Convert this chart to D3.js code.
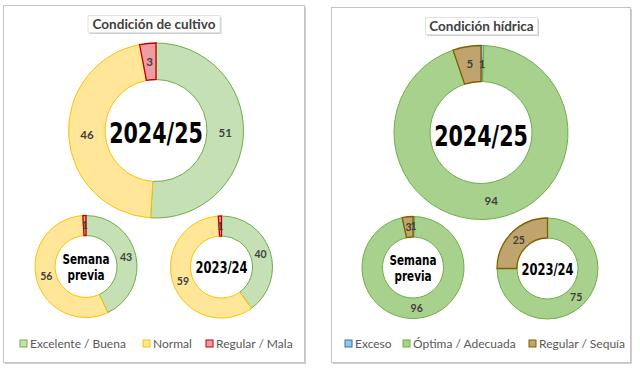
<!DOCTYPE html>
<html>
<head>
<meta charset="utf-8">
<script src="https://cdn.jsdelivr.net/npm/d3@7"></script>
<style>
  body { margin: 0; background: #fff; }
  svg { display: block; }
</style>
</head>
<body>
<svg id="chart" width="640" height="373"></svg>
<script>
// categories per panel
var cultivoCats = ["Excelente / Buena", "Normal", "Regular / Mala"]
var hidricaCats = ["Exceso", "Óptima / Adecuada", "Regular / Sequía"]

// values (%)
var cultivoActual = [51, 46, 3]
var cultivoPrevia = [43, 56, 1]
var cultivoAnterior = [40, 59, 1]
var hidricaActual = [0.5, 94.3, 5.2]
var hidricaPrevia = [0.5, 96.1, 3.4]
var hidricaAnterior = [0, 75, 25]

var cultivoFill = ["#c5e0b4", "#ffe699", "#ef9ca4"]
var cultivoStroke = ["#70ad47", "#ffc000", "#c00000"]
var hidricaFill = ["#9dc3e6", "#a9d18e", "#bfa46e"]
var hidricaStroke = ["#2e75b6", "#70ad47", "#7f6000"]

var svg = d3.select("#chart")
var txtFont = "Lato, 'Open Sans', sans-serif"
var bigFont = "'DejaVu Sans Condensed', 'DejaVu Sans', sans-serif"

var pie = d3.pie().sort(null).value(d => d)

function panel(x, y, w, h, title, tx, tw) {
    var g = svg.append("g")
    g.append("rect")
        .attr("x", x + 1.5).attr("y", y + 1.5)
        .attr("width", w).attr("height", h)
        .attr("fill", "#d0d0d0")
    g.append("rect")
        .attr("x", x).attr("y", y)
        .attr("width", w).attr("height", h)
        .attr("fill", "#fff")
        .attr("stroke", "#c4c4c4")
        .attr("stroke-width", 1)
    // title box with shadow
    g.append("rect")
        .attr("x", tx - tw / 2 + 1.5).attr("y", y + 11.5)
        .attr("width", tw).attr("height", 17)
        .attr("fill", "#cfcfcf")
    g.append("rect")
        .attr("x", tx - tw / 2).attr("y", y + 10)
        .attr("width", tw).attr("height", 17)
        .attr("fill", "#fff")
        .attr("stroke", "#e2e2e2")
    g.append("text")
        .attr("x", tx).attr("y", y + 23)
        .attr("text-anchor", "middle")
        .style("font-family", txtFont)
        .style("font-size", "13.5px")
        .style("font-weight", "bold")
        .style("fill", "#404040")
        .text(title)
    return g
}

function donut(g, values, cx, cy, r0, r1, fills, strokes, center, centerSize, sx, ty) {
    var arc = d3.arc().innerRadius(r0).outerRadius(r1)
    var dg = g.append("g").attr("transform", "translate(" + cx + "," + cy + ")")
    var arcs = pie(values)
    dg.selectAll("path")
        .data(arcs)
        .enter()
        .append("path")
        .attr("d", arc)
        .attr("fill", (d, i) => fills[i])
        .attr("stroke", (d, i) => strokes[i])
        .attr("stroke-width", (d, i) => i == 2 ? 1.3 : 1)
        .style("display", d => d.value > 0 ? null : "none")
    dg.selectAll("text.lbl")
        .data(arcs.filter(d => d.value > 0))
        .enter()
        .append("text")
        .attr("class", "lbl")
        .attr("transform", d => {
            var c = arc.centroid(d)
            return "translate(" + c[0] + "," + c[1] + ")"
        })
        .attr("text-anchor", "middle")
        .attr("dy", "0.35em")
        .style("font-family", txtFont)
        .style("font-size", r1 > 70 ? "11.5px" : "10.5px")
        .style("font-weight", "bold")
        .style("fill", "#404040")
        .text(d => Math.round(d.value))
    var lines = center.split("\n")
    var tg = dg.append("g").attr("transform", "translate(0," + ty + ") scale(" + sx + ",1)")
    lines.forEach((t, i) => {
        tg.append("text")
            .attr("text-anchor", "middle")
            .attr("y", (i - (lines.length - 1) / 2) * 16)
            .attr("dy", "0.36em")
            .style("font-family", bigFont)
            .style("font-size", centerSize + "px")
            .style("font-weight", "bold")
            .style("fill", "#000")
            .text(t)
    })
}

function legend(g, cats, xs, y, fills, strokes) {
    cats.forEach((c, i) => {
        g.append("rect")
            .attr("x", xs[i]).attr("y", y - 4)
            .attr("width", 7).attr("height", 7)
            .attr("fill", fills[i])
            .attr("stroke", strokes[i])
        g.append("text")
            .attr("x", xs[i] + 10).attr("y", y)
            .attr("dy", "0.35em")
            .style("font-family", txtFont)
            .style("font-size", "12px")
            .style("fill", "#595959")
            .text(c)
    })
}

var left = panel(3.5, 5.5, 301, 357, "Condición de cultivo", 154, 132)
donut(left, cultivoActual, 156, 130.5, 51, 87.5, cultivoFill, cultivoStroke, "2024/25", 28, 0.82, 2.5)
donut(left, cultivoPrevia, 86, 266.5, 31, 51, cultivoFill, cultivoStroke, "Semana\nprevia", 13.5, 0.86, 1)
donut(left, cultivoAnterior, 221.5, 267, 31, 51, cultivoFill, cultivoStroke, "2023/24", 16, 0.8, 0.5)
legend(left, cultivoCats, [20, 143, 206], 344, cultivoFill, cultivoStroke)

var right = panel(331.5, 7.5, 299, 355, "Condición hídrica", 481.5, 112)
donut(right, hidricaActual, 481, 132.5, 51, 87, hidricaFill, hidricaStroke, "2024/25", 28, 0.82, 3)
donut(right, hidricaPrevia, 413, 267.5, 30.5, 51, hidricaFill, hidricaStroke, "Semana\nprevia", 13.5, 0.86, 1)
donut(right, hidricaAnterior, 547.5, 268.5, 30.5, 50.5, hidricaFill, hidricaStroke, "2023/24", 16, 0.8, 0.5)
legend(right, hidricaCats, [345, 403, 529], 344, hidricaFill, hidricaStroke)
</script>
</body>
</html>
